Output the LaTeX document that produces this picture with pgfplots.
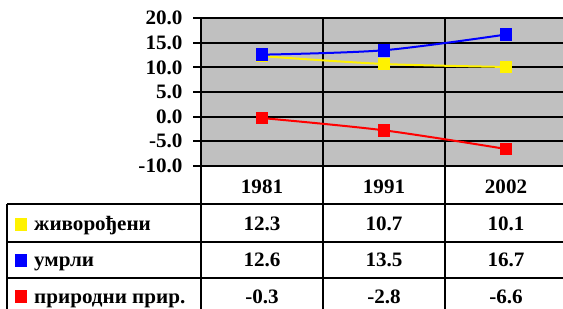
\documentclass[border=0pt]{standalone}
\usepackage{fontspec}
\setmainfont{Liberation Serif}[FakeStretch=1.03]
\usepackage{pgfplots}
\pgfplotsset{compat=1.18}
\definecolor{plotgray}{RGB}{192,192,192}
\begin{document}
\begin{tikzpicture}[x=1bp,y=1bp,tbl/.style={font=\fontsize{20.5bp}{23bp}\selectfont\bfseries,inner sep=0pt}]
\useasboundingbox (0,0) rectangle (563,308);
\begin{axis}[
 at={(201bp,142.3bp)}, anchor=south west,
 scale only axis, width=366bp, height=147.4bp,
 xmin=-0.5, xmax=2.5, ymin=-10, ymax=20,
 axis background/.style={fill=plotgray},
 xtick={0.5,1.5}, xticklabels={}, xmajorgrids,
 ytick={-10,-5,...,20}, ymajorgrids,
 major grid style={black, line width=2bp},
 axis line style={black, line width=2bp},
 xtick style={draw=none},
 ytick style={black, line width=2bp},
 tick align=center, major tick length=16bp,
 yticklabel={\pgfmathprintnumber[fixed,fixed zerofill,precision=1,assume math mode=true]{\tick}},
 yticklabel style={font=\fontsize{20.5bp}{23bp}\selectfont\bfseries, xshift=-7bp},
 clip=false,
]
\addplot[yellow, line width=2bp, smooth, mark=square*, mark size=5.3bp, mark options={solid,fill=yellow}]
 coordinates {(0,12.3)(1,10.7)(2,10.1)};
\addplot[blue, line width=2bp, smooth, mark=square*, mark size=5.3bp, mark options={solid,fill=blue}]
 coordinates {(0,12.6)(1,13.5)(2,16.7)};
\addplot[red, line width=2bp, smooth, mark=square*, mark size=5.3bp, mark options={solid,fill=red}]
 coordinates {(0,-0.3)(1,-2.8)(2,-6.6)};
\end{axis}
% data table
\begin{scope}[line width=2bp]
\draw (201,142.3) -- (201,-10);
\draw (323,142.3) -- (323,-10);
\draw (445,142.3) -- (445,-10);
\draw (567,142.3) -- (567,-10);
\draw (7,104) -- (7,-10);
\draw (7,104) -- (567,104);
\draw (7,66.3) -- (567,66.3);
\draw (7,30.3) -- (567,30.3);
\end{scope}
\node[tbl,anchor=base] at (262,115) {1981};
\node[tbl,anchor=base] at (384,115) {1991};
\node[tbl,anchor=base] at (506,115) {2002};
\node[tbl,anchor=base] at (262,77.3) {12.3};
\node[tbl,anchor=base] at (384,77.3) {10.7};
\node[tbl,anchor=base] at (506,77.3) {10.1};
\node[tbl,anchor=base] at (262,41.3) {12.6};
\node[tbl,anchor=base] at (384,41.3) {13.5};
\node[tbl,anchor=base] at (506,41.3) {16.7};
\node[tbl,anchor=base] at (262,5) {-0.3};
\node[tbl,anchor=base] at (384,5) {-2.8};
\node[tbl,anchor=base] at (506,5) {-6.6};
\fill[yellow] (15,77) rectangle (27,90);
\fill[blue] (15,41) rectangle (27,54);
\fill[red] (15,5) rectangle (27,18);
\node[tbl,anchor=base west] at (34,77.3) {живорођени};
\node[tbl,anchor=base west] at (34,41.3) {умрли};
\node[tbl,anchor=base west] at (34,5) {природни прир.};
\end{tikzpicture}
\end{document}
